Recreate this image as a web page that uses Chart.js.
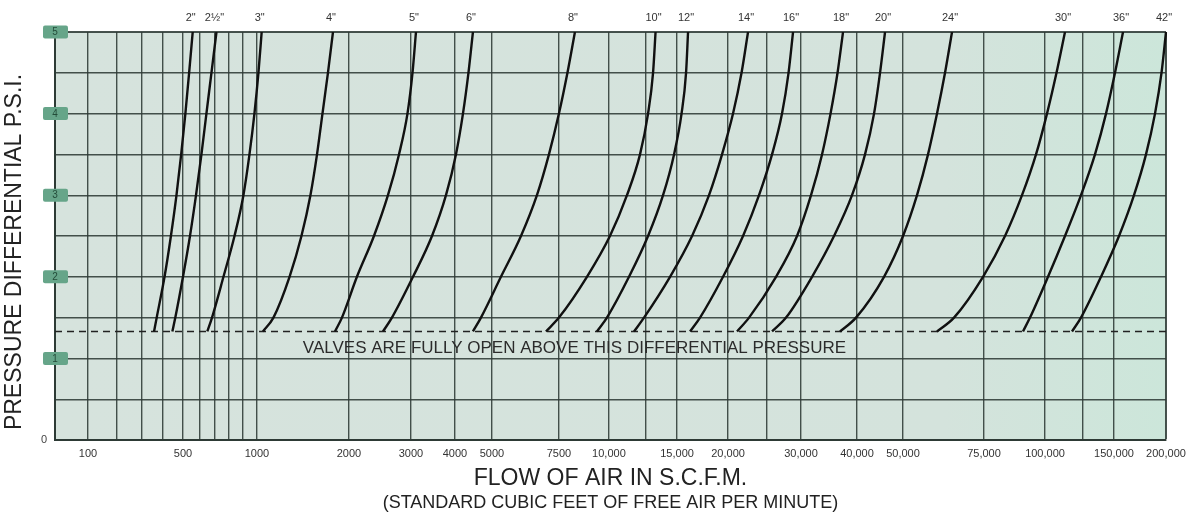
<!DOCTYPE html>
<html>
<head>
<meta charset="utf-8">
<script src="https://cdn.jsdelivr.net/npm/chart.js@4.4.1/dist/chart.umd.min.js"></script>
<style>
  html, body { margin: 0; padding: 0; background: #fff; }
  #wrap { width: 1203px; height: 518px; }
</style>
</head>
<body>
<div id="wrap"><canvas id="flowChart" width="1203" height="518"></canvas></div>
<script>
// pressure differential (psi) at which every curve is read, bottom to top
const psiLevels = [1.33, 1.5, 2, 2.5, 3, 3.5, 4, 4.5, 5];

// air flow (scfm) for each valve size at those levels
const flow2in   = [354, 367, 407, 437, 465, 490, 513, 534, 555];
const flow2hin  = [444, 459, 500, 539, 575, 609, 641, 675, 710];
const flow3in   = [647, 679, 759, 838, 903, 945, 981, 1011, 1036];
const flow4in   = [1046, 1132, 1278, 1398, 1496, 1572, 1638, 1707, 1773];
const flow5in   = [1800, 1897, 2107, 2355, 2581, 2774, 2932, 3030, 3100];
const flow6in   = [2498, 2649, 3040, 3442, 3772, 4024, 4198, 4339, 4458];
const flow8in   = [4458, 4679, 5280, 5960, 6565, 7060, 7500, 7876, 8223];
const flow10in  = [6933, 7500, 8811, 10060, 11146, 12055, 12648, 13025, 13219];
const flow12in  = [9333, 9886, 11282, 12648, 13815, 14737, 15386, 15781, 15961];
const flow14in  = [11627, 12349, 14395, 16325, 17967, 19335, 20580, 21606, 22424];
const flow16in  = [16141, 17078, 19444, 21792, 23880, 25680, 27093, 28055, 28741];
const flow18in  = [21057, 22553, 26235, 29362, 31581, 33417, 34910, 36189, 37224];
const flow20in  = [25680, 27682, 31743, 35541, 38985, 41584, 43440, 44721, 45820];
const flow24in  = [36656, 39794, 45600, 50000, 53630, 56667, 59277, 61700, 63900];
const flow30in  = [59277, 64545, 74630, 82808, 89723, 95850, 101177, 106983, 112457];
const flow36in  = [90143, 93172, 101776, 112457, 123540, 134138, 143113, 150829, 157663];
const flow42in  = [117180, 123540, 138950, 154215, 167550, 179055, 188190, 195090, 200000];

const valveSizes = ['2"', '2½"', '3"', '4"', '5"', '6"', '8"', '10"', '12"', '14"', '16"', '18"', '20"', '24"', '30"', '36"', '42"'];
const valveFlows = [flow2in, flow2hin, flow3in, flow4in, flow5in, flow6in, flow8in, flow10in, flow12in,
                    flow14in, flow16in, flow18in, flow20in, flow24in, flow30in, flow36in, flow42in];

const fullyOpenPsi = 1.33;
const noteText = 'VALVES ARE FULLY OPEN ABOVE THIS DIFFERENTIAL PRESSURE';
const xTitle = 'FLOW OF AIR IN S.C.F.M.';
const xSubTitle = '(STANDARD CUBIC FEET OF FREE AIR PER MINUTE)';
const yTitle = 'PRESSURE DIFFERENTIAL P.S.I.';

// flow axis: grid values and where each one sits across the plot (0..1)
const gridValues = [60, 100, 200, 300, 400, 500, 600, 700, 800, 900, 1000, 2000, 3000, 4000, 5000, 7500,
                    10000, 12500, 15000, 20000, 25000, 30000, 40000, 50000, 75000, 100000, 125000, 150000, 200000];
const gridStops  = [0, .0297, .0558, .0783, .0972, .1152, .1305, .1440, .1566, .1692, .1818, .2646, .3204, .3600, .3933, .4536,
                    .4986, .5320, .5599, .6058, .6409, .6715, .7219, .7633, .8362, .8911, .9253, .9532, 1];
const labelledValues = [100, 500, 1000, 2000, 3000, 4000, 5000, 7500, 10000, 15000, 20000, 30000,
                        40000, 50000, 75000, 100000, 150000, 200000];
const psiLabels = [1, 2, 3, 4, 5];

const FONT = '"Liberation Sans", Arial, sans-serif';

function flowToDecimal(v) {
  if (v <= gridValues[0]) return 0;
  for (let i = 0; i < gridValues.length - 1; i++) {
    const a = gridValues[i], b = gridValues[i + 1];
    if (v <= b) {
      const t = Math.log(v / a) / Math.log(b / a);
      return gridStops[i] + t * (gridStops[i + 1] - gridStops[i]);
    }
  }
  return 1;
}

function decimalToFlow(d) {
  if (d <= 0) return gridValues[0];
  for (let i = 0; i < gridStops.length - 1; i++) {
    if (d <= gridStops[i + 1]) {
      const t = (d - gridStops[i]) / (gridStops[i + 1] - gridStops[i]);
      return gridValues[i] * Math.pow(gridValues[i + 1] / gridValues[i], t);
    }
  }
  return gridValues[gridValues.length - 1];
}

// scale with the uneven flow graduation of the chart paper
class FlowScale extends Chart.Scale {
  determineDataLimits() {
    this.min = gridValues[0];
    this.max = gridValues[gridValues.length - 1];
  }
  buildTicks() {
    return gridValues.slice(1).map(v => ({ value: v }));
  }
  getLabelForValue(v) {
    return String(v);
  }
  getPixelForValue(v) {
    return this.getPixelForDecimal(flowToDecimal(v));
  }
  getValueForPixel(px) {
    return decimalToFlow(this.getDecimalForPixel(px));
  }
}
FlowScale.id = 'flow';
FlowScale.defaults = {};
Chart.register(FlowScale);

const chartDecor = {
  id: 'chartDecor',
  beforeDraw(chart) {
    const { ctx, chartArea: a } = chart;
    const g = ctx.createLinearGradient(a.left, 0, a.right, 0);
    g.addColorStop(0, '#d6e3dd');
    g.addColorStop(0.8, '#d4e3dc');
    g.addColorStop(1, '#cce6da');
    ctx.save();
    ctx.fillStyle = g;
    ctx.fillRect(a.left, a.top, a.width, a.height);
    ctx.restore();
  },
  afterDraw(chart) {
    const { ctx, chartArea: a, scales: { x, y } } = chart;
    ctx.save();
    ctx.textAlign = 'center';
    ctx.textBaseline = 'middle';

    // valve size over the top of each curve
    ctx.font = '11px ' + FONT;
    ctx.fillStyle = '#333';
    chart.data.datasets.forEach((ds, i) => {
      if (!ds.sizeCurve) return;
      const pts = chart.getDatasetMeta(i).data;
      const last = pts[pts.length - 1];
      ctx.fillText(ds.label, last.x - 2, a.top - 14);
    });

    // note under the dashed line
    ctx.font = '17px ' + FONT;
    ctx.fillStyle = '#2b2b2b';
    ctx.fillText(noteText, x.getPixelForValue(8200), y.getPixelForValue(1.12));

    // axis titles
    ctx.fillStyle = '#222';
    ctx.font = '18px ' + FONT;
    ctx.fillText(xSubTitle, (a.left + a.right) / 2, a.bottom + 63);
    ctx.save();
    ctx.translate(15, (a.top + a.bottom) / 2 + 16);
    ctx.rotate(-Math.PI / 2);
    ctx.font = '23px ' + FONT;
    ctx.fillText(yTitle, 0, 0);
    ctx.restore();

    // psi labels in green tabs on the left edge
    psiLabels.forEach(v => {
      const py = y.getPixelForValue(v);
      ctx.fillStyle = '#66a589';
      ctx.beginPath();
      ctx.roundRect(a.left - 12, py - 6.5, 25, 13, 2);
      ctx.fill();
      ctx.fillStyle = '#234c39';
      ctx.font = '10px ' + FONT;
      ctx.fillText(String(v), a.left, py + 0.5);
    });
    ctx.fillStyle = '#444';
    ctx.font = '11px ' + FONT;
    ctx.fillText('0', a.left - 11, y.getPixelForValue(0));

    ctx.restore();
  }
};

const datasets = valveFlows.map((flows, i) => ({
  label: valveSizes[i],
  sizeCurve: true,
  data: flows.map((f, j) => ({ x: f, y: psiLevels[j] })),
  borderColor: '#111',
  borderWidth: 2.4,
  pointRadius: 0,
  cubicInterpolationMode: 'monotone',
  fill: false
}));

datasets.push({
  label: 'fully open',
  data: [{ x: gridValues[0], y: fullyOpenPsi }, { x: gridValues[gridValues.length - 1], y: fullyOpenPsi }],
  borderColor: '#222',
  borderWidth: 1.6,
  borderDash: [7, 5],
  pointRadius: 0,
  fill: false
});

const gridColor = 'rgba(45,58,53,0.88)';

new Chart(document.getElementById('flowChart'), {
  type: 'line',
  data: { datasets: datasets },
  plugins: [chartDecor],
  options: {
    responsive: false,
    animation: false,
    events: [],
    layout: { padding: { top: 32, right: 37, left: 0, bottom: 0 } },
    plugins: {
      legend: { display: false },
      tooltip: { enabled: false }
    },
    scales: {
      x: {
        type: 'flow',
        afterFit: s => { s.height = 78; },
        grid: {
          color: gridColor,
          lineWidth: c => (c.tick && c.tick.value === 200000 ? 2 : 1.4),
          drawTicks: false
        },
        border: { color: '#2d3a35', width: 2 },
        ticks: {
          autoSkip: false,
          maxRotation: 0,
          minRotation: 0,
          padding: 7,
          color: '#333',
          font: { family: FONT, size: 11 },
          callback: v => labelledValues.includes(v) ? (v >= 10000 ? v.toLocaleString('en-US') : String(v)) : ''
        },
        title: {
          display: true,
          text: xTitle,
          color: '#222',
          font: { family: FONT, size: 23 },
          padding: { top: 0, bottom: 26 }
        }
      },
      y: {
        min: 0,
        max: 5,
        afterFit: s => { s.width = 55; },
        grid: {
          color: gridColor,
          lineWidth: c => (c.tick && c.tick.value === 5 ? 2 : 1.4),
          drawTicks: false
        },
        border: { color: '#2d3a35', width: 2 },
        ticks: { stepSize: 0.5, display: false }
      }
    }
  }
});
</script>
</body>
</html>
